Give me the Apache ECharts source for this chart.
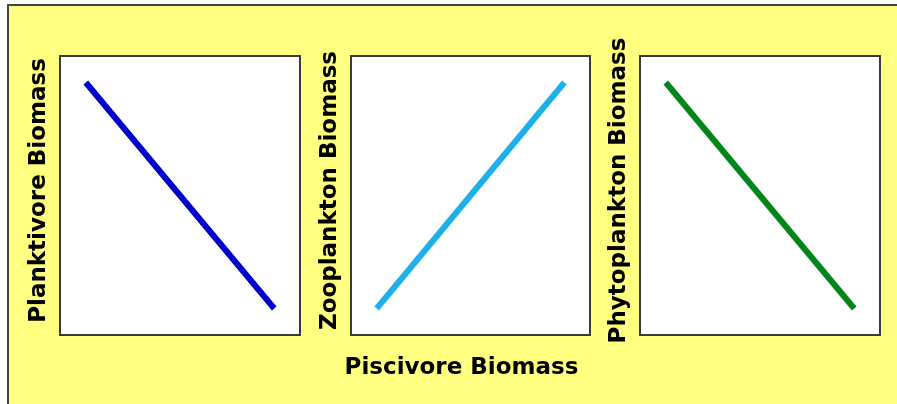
<!DOCTYPE html>
<html>
<head>
<meta charset="utf-8">
<script src="https://cdn.jsdelivr.net/npm/echarts@6/dist/echarts.min.js"></script>
<style>
  html, body { margin: 0; padding: 0; background: #fff; }
  #main { width: 897px; height: 404px; }
</style>
</head>
<body>
<div id="main"></div>
<script>
// piscivore biomass on the x axis, low -> high
const piscivore = [0, 10];
// responses of the three lower trophic levels
const planktivore = [10, 0];
const zooplankton = [0, 10];
const phytoplankton = [10, 0];

const yNames = ['Planktivore Biomass', 'Zooplankton Biomass', 'Phytoplankton Biomass'];
const lineColors = ['#0000cc', '#1cb0e8', '#00851a'];
const seriesData = [planktivore, zooplankton, phytoplankton];

const grids = [
  { left: 60, top: 56, width: 240, height: 279 },
  { left: 351, top: 56, width: 239, height: 279 },
  { left: 640, top: 56, width: 240, height: 279 }
];

const labelFont = {
  fontFamily: 'DejaVu Sans',
  fontWeight: 'bold',
  fontSize: 23,
  color: '#000'
};

let myChart = echarts.init(document.getElementById('main'));

let option = {
  animation: false,
  backgroundColor: '#fff',
  graphic: [
    {
      type: 'rect',
      z: -10,
      shape: { x: 8, y: 5, width: 1000, height: 500 },
      style: { fill: '#ffff80', stroke: '#444', lineWidth: 2 }
    }
  ],
  grid: grids.map(g => ({
    ...g,
    show: true,
    backgroundColor: '#fff',
    borderColor: '#3a3a3a',
    borderWidth: 2
  })),
  xAxis: grids.map((g, i) => ({
    gridIndex: i,
    type: 'value',
    min: -1.5,
    max: 11.5,
    name: i === 1 ? 'Piscivore Biomass' : '',
    nameLocation: 'middle',
    nameGap: 22,
    nameTextStyle: { ...labelFont, padding: [0, 18, 0, 0] },
    axisLine: { show: false },
    axisTick: { show: false },
    axisLabel: { show: false },
    splitLine: { show: false }
  })),
  yAxis: grids.map((g, i) => ({
    gridIndex: i,
    type: 'value',
    min: -1.3,
    max: 11.3,
    name: yNames[i],
    nameLocation: 'middle',
    nameRotate: 90,
    nameGap: 9,
    nameTextStyle: { ...labelFont, padding: [0, 0, 0, 10] },
    axisLine: { show: false },
    axisTick: { show: false },
    axisLabel: { show: false },
    splitLine: { show: false }
  })),
  series: seriesData.map((d, i) => ({
    type: 'line',
    xAxisIndex: i,
    yAxisIndex: i,
    data: piscivore.map((x, j) => [x, d[j]]),
    showSymbol: false,
    lineStyle: { color: lineColors[i], width: 6, cap: 'square' }
  }))
};

myChart.setOption(option);
</script>
</body>
</html>
